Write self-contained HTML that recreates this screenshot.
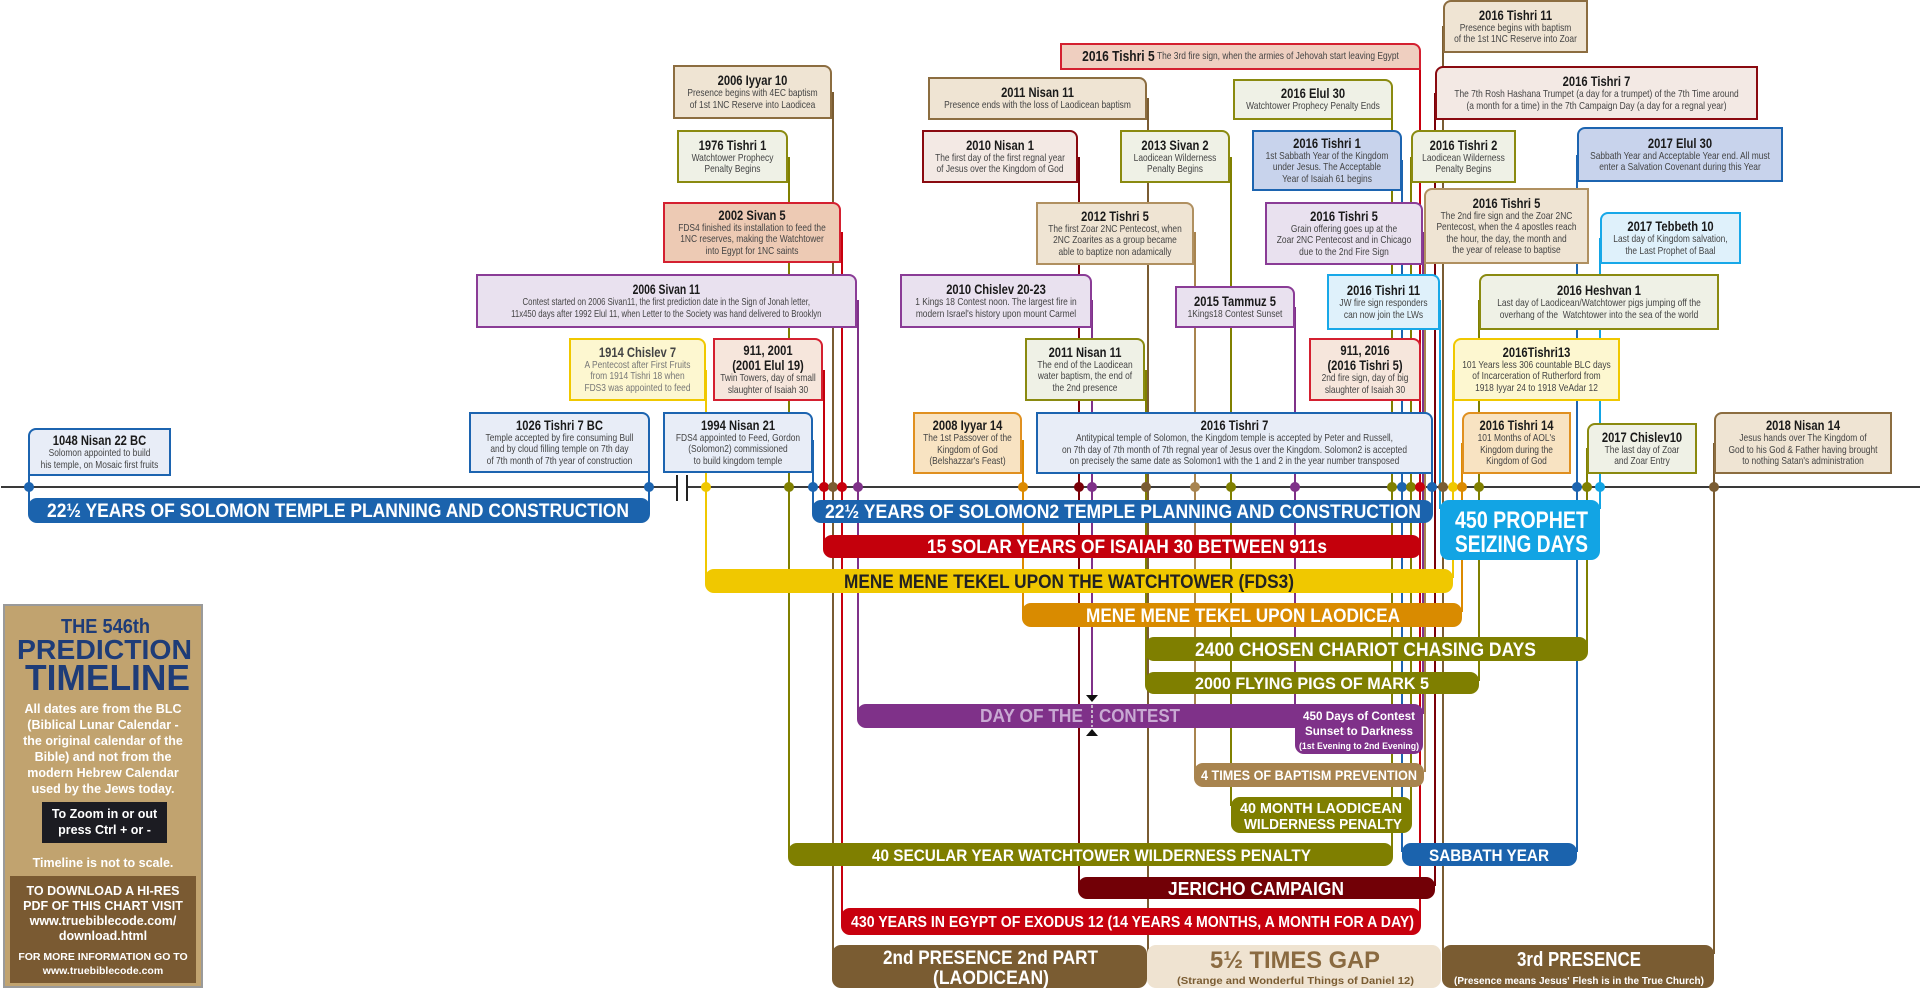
<!DOCTYPE html>
<html><head><meta charset="utf-8">
<style>
html,body{margin:0;padding:0;background:#fff}
body{width:1920px;height:990px;position:relative;overflow:hidden;font-family:"Liberation Sans",sans-serif}
svg{position:absolute;left:0;top:0}
.b{position:absolute;box-sizing:border-box;border:2px solid;color:#444}
.b .i{position:absolute;left:0;top:0;width:125%;height:100%;transform:scaleX(.8);transform-origin:0 0;display:flex;flex-direction:column;justify-content:center;align-items:center;text-align:center;font-size:10.5px;line-height:11.5px;white-space:nowrap}
.b .t{font-weight:bold;font-size:14px;line-height:15px;color:#1a1a1a}
.R{border-top-right-radius:8px}.L{border-top-left-radius:8px}
.bl{border-color:#1c64b0;background:#e8edf7}
.bl2{border-color:#1c64b0;background:#c8d3ec}
.ye{border-color:#f0c800;background:#fdf7d0}
.rd{border-color:#d42030;background:#f6e6dc}
.rd2{border-color:#d42030;background:#edcab4}
.pu{border-color:#8a3c96;background:#e9e1ef}
.ol{border-color:#8a8a10;background:#eff1e6}
.tn{border-color:#8c6d40;background:#efe4d3}
.tn2{border-color:#b09060;background:#efe4d3}
.dr{border-color:#8a0a10;background:#f3e9e4}
.or{border-color:#e09020;background:#f8e3c2}
.lb{border-color:#18a8e8;background:#dff1fb}
.side{position:absolute;left:3px;top:604px;width:200px;height:384px;box-sizing:border-box;border:2px solid #9a9a9a;background:#c1a36f;text-align:center;color:#fff;font-weight:bold}
.side svg{position:absolute;left:0;top:0}
</style></head><body>
<svg width="1920" height="990" viewBox="0 0 1920 990" font-family="Liberation Sans, sans-serif" font-weight="bold">
<g stroke-width="2" fill="none">
<line x1="1" y1="487" x2="1920" y2="487" stroke="#3a3a3a"/>
<line x1="29" y1="452" x2="29" y2="507" stroke="#1c64b0"/>
<line x1="649" y1="440" x2="649" y2="507" stroke="#1c64b0"/>
<line x1="706" y1="370" x2="706" y2="578" stroke="#f0c800"/>
<line x1="789" y1="157" x2="789" y2="852" stroke="#808000"/>
<line x1="813" y1="440" x2="813" y2="509" stroke="#1c64b0"/>
<line x1="824" y1="370" x2="824" y2="544" stroke="#c4000c"/>
<line x1="833" y1="92" x2="833" y2="954" stroke="#7a5c32"/>
<line x1="842" y1="232" x2="842" y2="917" stroke="#c8000e"/>
<line x1="858" y1="300" x2="858" y2="713" stroke="#7f3189"/>
<line x1="1023" y1="440" x2="1023" y2="612" stroke="#dc8a00"/>
<line x1="1079" y1="157" x2="1079" y2="886" stroke="#7a0008"/>
<line x1="1092" y1="300" x2="1092" y2="697" stroke="#7f3189"/>
<line x1="1146" y1="370" x2="1146" y2="681" stroke="#808000"/>
<line x1="1148" y1="98" x2="1148" y2="954" stroke="#7a5c32"/>
<line x1="1195" y1="232" x2="1195" y2="772" stroke="#a8844f"/>
<line x1="1231" y1="157" x2="1231" y2="806" stroke="#808000"/>
<line x1="1295" y1="307" x2="1295" y2="714" stroke="#7f3189"/>
<line x1="1392" y1="100" x2="1392" y2="852" stroke="#808000"/>
<line x1="1402" y1="160" x2="1402" y2="852" stroke="#1c64b0"/>
<line x1="1411" y1="157" x2="1411" y2="806" stroke="#808000"/>
<line x1="1420" y1="56" x2="1420" y2="917" stroke="#c8000e"/>
<line x1="1423" y1="232" x2="1423" y2="714" stroke="#7f3189"/>
<line x1="1425" y1="226" x2="1425" y2="772" stroke="#a8844f"/>
<line x1="1432" y1="443" x2="1432" y2="509" stroke="#1c64b0"/>
<line x1="1435" y1="93" x2="1435" y2="886" stroke="#7a0008"/>
<line x1="1440" y1="300" x2="1440" y2="509" stroke="#12a4e4"/>
<line x1="1443" y1="26" x2="1443" y2="954" stroke="#7a5c32"/>
<line x1="1453" y1="370" x2="1453" y2="578" stroke="#f0c800"/>
<line x1="1462" y1="443" x2="1462" y2="612" stroke="#dc8a00"/>
<line x1="1479" y1="300" x2="1479" y2="681" stroke="#808000"/>
<line x1="1577" y1="155" x2="1577" y2="852" stroke="#1c64b0"/>
<line x1="1587" y1="448" x2="1587" y2="646" stroke="#808000"/>
<line x1="1600" y1="238" x2="1600" y2="509" stroke="#12a4e4"/>
<line x1="1714" y1="443" x2="1714" y2="954" stroke="#7a5c32"/>
</g>
<rect x="678" y="483" width="8" height="8" fill="#fff"/>
<line x1="677" y1="475" x2="677" y2="501" stroke="#222" stroke-width="2"/>
<line x1="687" y1="475" x2="687" y2="501" stroke="#222" stroke-width="2"/>
<g fill="#fff" font-size="19">
<rect x="28" y="498" width="622" height="25" rx="9" fill="#1b63ad"/>
<text x="47" y="517" textLength="582" lengthAdjust="spacingAndGlyphs">22½ YEARS OF SOLOMON TEMPLE PLANNING AND CONSTRUCTION</text>
<rect x="812" y="500" width="621" height="23" rx="9" fill="#1b63ad"/>
<text x="825" y="518" textLength="596" lengthAdjust="spacingAndGlyphs">22½ YEARS OF SOLOMON2 TEMPLE PLANNING AND CONSTRUCTION</text>
<rect x="823" y="535" width="598" height="23" rx="9" fill="#c4000c"/>
<text x="927" y="553" textLength="400" lengthAdjust="spacingAndGlyphs">15 SOLAR YEARS OF ISAIAH 30 BETWEEN 911s</text>
<rect x="705" y="569" width="748" height="24" rx="9" fill="#f0c800"/>
<text x="844" y="588" textLength="450" lengthAdjust="spacingAndGlyphs" fill="#222">MENE MENE TEKEL UPON THE WATCHTOWER (FDS3)</text>
<rect x="1022" y="603" width="440" height="24" rx="9" fill="#d98b00"/>
<text x="1086" y="622" textLength="314" lengthAdjust="spacingAndGlyphs">MENE MENE TEKEL UPON LAODICEA</text>
<rect x="1145" y="637" width="443" height="24" rx="9" fill="#7f7f00"/>
<text x="1195" y="656" textLength="341" lengthAdjust="spacingAndGlyphs">2400 CHOSEN CHARIOT CHASING DAYS</text>
<rect x="1145" y="672" width="334" height="22" rx="9" fill="#7f7f00"/>
<text x="1195" y="689" font-size="17" textLength="234" lengthAdjust="spacingAndGlyphs">2000 FLYING PIGS OF MARK 5</text>
<rect x="857" y="704" width="438" height="24" rx="9" fill="#7f3189"/>
<rect x="1295" y="704" width="128" height="50" rx="9" fill="#7f3189"/>
<rect x="1285" y="704" width="20" height="24" fill="#7f3189"/>
<text x="980" y="722" font-size="18" fill="#c9a9d3" textLength="103" lengthAdjust="spacingAndGlyphs">DAY OF THE</text>
<text x="1099" y="722" font-size="18" fill="#c9a9d3" textLength="81" lengthAdjust="spacingAndGlyphs">CONTEST</text>
<line x1="1092" y1="705" x2="1092" y2="727" stroke="#ddd" stroke-width="1.5" stroke-dasharray="3 2"/>
<polygon points="1086,695 1098,695 1092,702" fill="#111"/>
<polygon points="1086,736 1098,736 1092,729" fill="#111"/>
<text x="1303" y="720" font-size="12" textLength="112" lengthAdjust="spacingAndGlyphs">450 Days of Contest</text>
<text x="1305" y="735" font-size="12" textLength="108" lengthAdjust="spacingAndGlyphs">Sunset to Darkness</text>
<text x="1299" y="749" font-size="9" textLength="120" lengthAdjust="spacingAndGlyphs">(1st Evening to 2nd Evening)</text>
<rect x="1194" y="763" width="230" height="24" rx="9" fill="#a8844f"/>
<text x="1201" y="780" font-size="14" textLength="216" lengthAdjust="spacingAndGlyphs">4 TIMES OF BAPTISM PREVENTION</text>
<rect x="1231" y="797" width="181" height="36" rx="9" fill="#7f7f00"/>
<text x="1240" y="813" font-size="15" textLength="162" lengthAdjust="spacingAndGlyphs">40 MONTH LAODICEAN</text>
<text x="1244" y="829" font-size="15" textLength="158" lengthAdjust="spacingAndGlyphs">WILDERNESS PENALTY</text>
<rect x="788" y="843" width="605" height="23" rx="9" fill="#7f7f00"/>
<text x="872" y="861" font-size="17" textLength="439" lengthAdjust="spacingAndGlyphs">40 SECULAR YEAR WATCHTOWER WILDERNESS PENALTY</text>
<rect x="1402" y="843" width="175" height="23" rx="9" fill="#1b63ad"/>
<text x="1429" y="861" font-size="17" textLength="120" lengthAdjust="spacingAndGlyphs">SABBATH YEAR</text>
<rect x="1078" y="877" width="357" height="22" rx="9" fill="#720006"/>
<text x="1168" y="895" font-size="18" textLength="176" lengthAdjust="spacingAndGlyphs">JERICHO CAMPAIGN</text>
<rect x="841" y="908" width="580" height="27" rx="9" fill="#c8000e"/>
<text x="851" y="927" font-size="16" textLength="563" lengthAdjust="spacingAndGlyphs">430 YEARS IN EGYPT OF EXODUS 12 (14 YEARS 4 MONTHS, A MONTH FOR A DAY)</text>
<rect x="832" y="945" width="315" height="43" rx="9" fill="#7a5c32"/>
<text x="883" y="964" font-size="19" textLength="215" lengthAdjust="spacingAndGlyphs">2nd PRESENCE 2nd PART</text>
<text x="933" y="984" font-size="19" textLength="116" lengthAdjust="spacingAndGlyphs">(LAODICEAN)</text>
<rect x="1147" y="945" width="294" height="43" rx="9" fill="#efe3d1"/>
<text x="1210" y="968" font-size="24" fill="#8a6a40" textLength="170" lengthAdjust="spacingAndGlyphs">5½ TIMES GAP</text>
<text x="1177" y="984" font-size="10.5" fill="#7a5c32" textLength="237" lengthAdjust="spacingAndGlyphs">(Strange and Wonderful Things of Daniel 12)</text>
<rect x="1442" y="945" width="272" height="43" rx="9" fill="#7a5c32"/>
<text x="1517" y="966" font-size="20" textLength="124" lengthAdjust="spacingAndGlyphs">3rd PRESENCE</text>
<text x="1454" y="984" font-size="10.5" textLength="250" lengthAdjust="spacingAndGlyphs">(Presence means Jesus' Flesh is in the True Church)</text>
<rect x="1440" y="500" width="160" height="60" rx="9" fill="#12a4e4"/>
<text x="1455" y="528" font-size="24" textLength="133" lengthAdjust="spacingAndGlyphs">450 PROPHET</text>
<text x="1455" y="552" font-size="24" textLength="133" lengthAdjust="spacingAndGlyphs">SEIZING DAYS</text>
</g>
<g>
<circle cx="29" cy="487" r="5" fill="#1c64b0"/><circle cx="649" cy="487" r="5" fill="#1c64b0"/>
<circle cx="706" cy="487" r="5" fill="#f0c800"/><circle cx="789" cy="487" r="5" fill="#808000"/>
<circle cx="813" cy="487" r="5" fill="#1c64b0"/><circle cx="824" cy="487" r="5" fill="#c4000c"/>
<circle cx="833" cy="487" r="5" fill="#7a5c32"/><circle cx="842" cy="487" r="5" fill="#c8000e"/>
<circle cx="858" cy="487" r="5" fill="#7f3189"/><circle cx="1023" cy="487" r="5" fill="#dc8a00"/>
<circle cx="1079" cy="487" r="5" fill="#7a0008"/><circle cx="1092" cy="487" r="5" fill="#7f3189"/>
<circle cx="1146" cy="487" r="5" fill="#7a5c32"/><circle cx="1195" cy="487" r="5" fill="#a8844f"/>
<circle cx="1231" cy="487" r="5" fill="#808000"/><circle cx="1295" cy="487" r="5" fill="#7f3189"/>
<circle cx="1392" cy="487" r="5" fill="#808000"/><circle cx="1402" cy="487" r="5" fill="#1c64b0"/>
<circle cx="1411" cy="487" r="5" fill="#808000"/><circle cx="1420" cy="487" r="5" fill="#c8000e"/>
<circle cx="1432" cy="487" r="5" fill="#1c64b0"/><circle cx="1443" cy="487" r="5" fill="#7a5c32"/>
<circle cx="1453" cy="487" r="5" fill="#f0c800"/><circle cx="1462" cy="487" r="5" fill="#dc8a00"/>
<circle cx="1479" cy="487" r="5" fill="#808000"/><circle cx="1577" cy="487" r="5" fill="#1c64b0"/>
<circle cx="1587" cy="487" r="5" fill="#808000"/><circle cx="1600" cy="487" r="5" fill="#12a4e4"/>
<circle cx="1714" cy="487" r="5" fill="#7a5c32"/>
</g>
</svg>

<div class="b bl L" style="left:28px;top:428px;width:143px;height:48px"><div class="i"><span class="t">1048 Nisan 22 BC</span>Solomon appointed to build<br>his temple, on Mosaic first fruits</div></div>
<div class="b bl R" style="left:469px;top:412px;width:181px;height:61px"><div class="i"><span class="t">1026 Tishri 7 BC</span>Temple accepted by fire consuming Bull<br>and by cloud filling temple on 7th day<br>of 7th month of 7th year of construction</div></div>
<div class="b bl R" style="left:663px;top:412px;width:150px;height:61px"><div class="i"><span class="t">1994 Nisan 21</span>FDS4 appointed to Feed, Gordon<br>(Solomon2) commissioned<br>to build kingdom temple</div></div>
<div class="b ye R" style="left:569px;top:338px;width:137px;height:63px;color:#777"><div class="i"><span class="t" style="color:#444">1914 Chislev 7</span>A Pentecost after First Fruits<br>from 1914 Tishri 18 when<br>FDS3 was appointed to feed</div></div>
<div class="b rd R" style="left:713px;top:338px;width:110px;height:63px"><div class="i"><span class="t">911, 2001</span><span class="t">(2001 Elul 19)</span>Twin Towers, day of small<br>slaughter of Isaiah 30</div></div>
<div class="b pu R" style="left:476px;top:274px;width:381px;height:54px"><div class="i" style="width:135%;transform:scaleX(.74)"><span class="t">2006 Sivan 11</span>Contest started on 2006 Sivan11, the first prediction date in the Sign of Jonah letter,<br>11x450 days after 1992 Elul 11, when Letter to the Society was hand delivered to Brooklyn</div></div>
<div class="b rd2 R" style="left:663px;top:202px;width:178px;height:61px"><div class="i"><span class="t">2002 Sivan 5</span>FDS4 finished its installation to feed the<br>1NC reserves, making the Watchtower<br>into Egypt for 1NC saints</div></div>
<div class="b ol R" style="left:677px;top:130px;width:111px;height:53px"><div class="i"><span class="t">1976 Tishri 1</span>Watchtower Prophecy<br>Penalty Begins</div></div>
<div class="b tn R" style="left:673px;top:65px;width:159px;height:54px"><div class="i"><span class="t">2006 Iyyar 10</span>Presence begins with 4EC baptism<br>of 1st 1NC Reserve into Laodicea</div></div>
<div class="b tn R" style="left:928px;top:77px;width:219px;height:43px"><div class="i"><span class="t">2011 Nisan 11</span>Presence ends with the loss of Laodicean baptism</div></div>
<div class="b dr R" style="left:922px;top:130px;width:156px;height:53px"><div class="i"><span class="t">2010 Nisan 1</span>The first day of the first regnal year<br>of Jesus over the Kingdom of God</div></div>
<div class="b ol R" style="left:1120px;top:130px;width:110px;height:53px"><div class="i"><span class="t">2013 Sivan 2</span>Laodicean Wilderness<br>Penalty Begins</div></div>
<div class="b tn2 R" style="left:1036px;top:202px;width:158px;height:63px"><div class="i"><span class="t">2012 Tishri 5</span>The first Zoar 2NC Pentecost, when<br>2NC Zoarites as a group became<br>able to baptize non adamically</div></div>
<div class="b pu R" style="left:900px;top:274px;width:192px;height:54px"><div class="i"><span class="t">2010 Chislev 20-23</span>1 Kings 18 Contest noon. The largest fire in<br>modern Israel's history upon mount Carmel</div></div>
<div class="b pu R" style="left:1175px;top:286px;width:120px;height:42px"><div class="i"><span class="t">2015 Tammuz 5</span>1Kings18 Contest Sunset</div></div>
<div class="b rd2 R" style="left:1060px;top:43px;width:361px;height:27px;background:#efcfc0"><div class="i" style="flex-direction:row"><span class="t" style="font-size:15px">2016 Tishri 5</span>&nbsp;The 3rd fire sign, when the armies of Jehovah start leaving Egypt</div></div>
<div class="b ol R" style="left:1233px;top:79px;width:160px;height:41px"><div class="i"><span class="t">2016 Elul 30</span>Watchtower Prophecy Penalty Ends</div></div>
<div class="b bl2 R" style="left:1252px;top:130px;width:150px;height:61px"><div class="i"><span class="t">2016 Tishri 1</span>1st Sabbath Year of the Kingdom<br>under Jesus. The Acceptable<br>Year of Isaiah 61 begins</div></div>
<div class="b pu R" style="left:1265px;top:202px;width:158px;height:63px"><div class="i"><span class="t">2016 Tishri 5</span>Grain offering goes up at the<br>Zoar 2NC Pentecost and in Chicago<br>due to the 2nd Fire Sign</div></div>
<div class="b tn L" style="left:1443px;top:0px;width:145px;height:53px"><div class="i"><span class="t">2016 Tishri 11</span>Presence begins with baptism<br>of the 1st 1NC Reserve into Zoar</div></div>
<div class="b dr L" style="left:1435px;top:66px;width:323px;height:54px"><div class="i"><span class="t">2016 Tishri 7</span>The 7th Rosh Hashana Trumpet (a day for a trumpet) of the 7th Time around<br>(a month for a time) in the 7th Campaign Day (a day for a regnal year)</div></div>
<div class="b ol L" style="left:1411px;top:130px;width:105px;height:53px"><div class="i"><span class="t">2016 Tishri 2</span>Laodicean Wilderness<br>Penalty Begins</div></div>
<div class="b bl2 L" style="left:1577px;top:127px;width:206px;height:55px"><div class="i"><span class="t">2017 Elul 30</span>Sabbath Year and Acceptable Year end. All must<br>enter a Salvation Covenant during this Year</div></div>
<div class="b tn2 L" style="left:1424px;top:188px;width:165px;height:76px"><div class="i"><span class="t">2016 Tishri 5</span>The 2nd fire sign and the Zoar 2NC<br>Pentecost, when the 4 apostles reach<br>the hour, the day, the month and<br>the year of release to baptise</div></div>
<div class="b lb L" style="left:1600px;top:212px;width:141px;height:52px"><div class="i"><span class="t">2017 Tebbeth 10</span>Last day of Kingdom salvation,<br>the Last Prophet of Baal</div></div>
<div class="b lb R" style="left:1327px;top:274px;width:113px;height:56px"><div class="i"><span class="t">2016 Tishri 11</span>JW fire sign responders<br>can now join the LWs</div></div>
<div class="b ol L" style="left:1479px;top:274px;width:240px;height:56px"><div class="i"><span class="t">2016 Heshvan 1</span>Last day of Laodicean/Watchtower pigs jumping off the<br>overhang of the&nbsp; Watchtower into the sea of the world</div></div>
<div class="b ol R" style="left:1025px;top:338px;width:120px;height:63px"><div class="i"><span class="t">2011 Nisan 11</span>The end of the Laodicean<br>water baptism, the end of<br>the 2nd presence</div></div>
<div class="b or R" style="left:913px;top:412px;width:109px;height:62px"><div class="i"><span class="t">2008 Iyyar 14</span>The 1st Passover of the<br>Kingdom of God<br>(Belshazzar's Feast)</div></div>
<div class="b bl R" style="left:1036px;top:412px;width:397px;height:62px"><div class="i"><span class="t">2016 Tishri 7</span>Antitypical temple of Solomon, the Kingdom temple is accepted by Peter and Russell,<br>on 7th day of 7th month of 7th regnal year of Jesus over the Kingdom. Solomon2 is accepted<br>on precisely the same date as Solomon1 with the 1 and 2 in the year number transposed</div></div>
<div class="b rd R" style="left:1309px;top:338px;width:112px;height:63px"><div class="i"><span class="t">911, 2016</span><span class="t">(2016 Tishri 5)</span>2nd fire sign, day of big<br>slaughter of Isaiah 30</div></div>
<div class="b ye L" style="left:1453px;top:338px;width:167px;height:63px"><div class="i"><span class="t">2016Tishri13</span>101 Years less 306 countable BLC days<br>of Incarceration of Rutherford from<br>1918 Iyyar 24 to 1918 VeAdar 12</div></div>
<div class="b or L" style="left:1462px;top:412px;width:109px;height:62px"><div class="i"><span class="t">2016 Tishri 14</span>101 Months of AOL's<br>Kingdom during the<br>Kingdom of God</div></div>
<div class="b ol L" style="left:1587px;top:423px;width:110px;height:51px"><div class="i"><span class="t">2017 Chislev10</span>The last day of Zoar<br>and Zoar Entry</div></div>
<div class="b tn L" style="left:1714px;top:412px;width:178px;height:62px"><div class="i"><span class="t">2018 Nisan 14</span>Jesus hands over The Kingdom of<br>God to his God &amp; Father having brought<br>to nothing Satan's administration</div></div>

<div class="side">
<svg width="196" height="100" font-family="Liberation Sans, sans-serif" font-weight="bold" fill="#1e3c78">
<text x="56" y="27" font-size="20" textLength="89" lengthAdjust="spacingAndGlyphs">THE 546th</text>
<text x="12" y="53" font-size="28" textLength="175" lengthAdjust="spacingAndGlyphs">PREDICTION</text>
<text x="20" y="84" font-size="36" textLength="165" lengthAdjust="spacingAndGlyphs">TIMELINE</text>
</svg>
<div style="position:absolute;left:0;top:95px;width:196px;font-size:12.5px;line-height:16px">All dates are from the BLC<br>(Biblical Lunar Calendar -<br>the original calendar of the<br>Bible) and not from the<br>modern Hebrew Calendar<br>used by the Jews today.</div>
<div style="position:absolute;left:37px;top:196px;width:125px;height:41px;background:#1c1c22;font-size:12.5px;line-height:16px;padding-top:4px;box-sizing:border-box">To Zoom in or out<br>press Ctrl + or -</div>
<div style="position:absolute;left:0;top:250px;width:196px;font-size:12.5px">Timeline is not to scale.</div>
<div style="position:absolute;left:5px;top:270px;width:186px;height:107px;background:#7a5a32;font-size:12.5px;line-height:15px;padding-top:8px;box-sizing:border-box;white-space:nowrap">TO DOWNLOAD A HI-RES<br>PDF OF THIS CHART VISIT<br>www.truebiblecode.com/<br>download.html<div style="font-size:10.5px;line-height:14px;margin-top:6px">FOR MORE INFORMATION GO TO<br>www.truebiblecode.com</div></div>
</div>
</body></html>
